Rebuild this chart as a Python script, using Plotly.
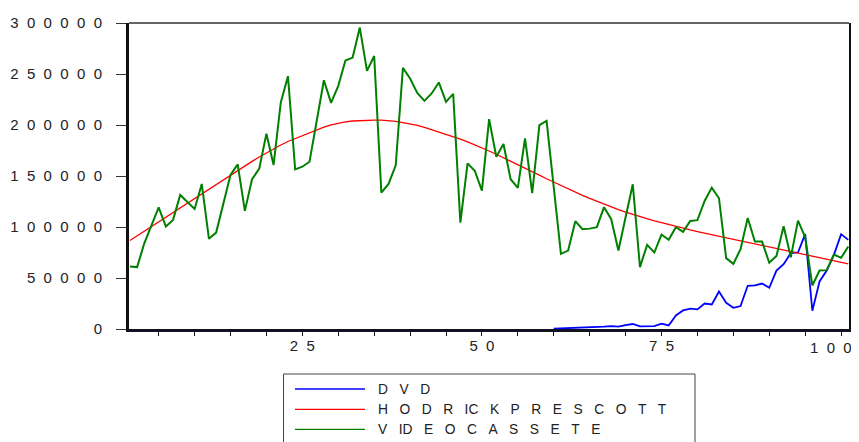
import plotly.graph_objects as go

periods = list(range(1, 102))

videocassete = [
    61200, 60700, 84000, 100800, 119200, 100400, 107000, 131400, 124900, 117700,
    142200, 88400, 94500, 123000, 151000, 161400, 115800, 146800, 157200, 191400,
    160800, 222100, 247900, 156500, 159100, 164000, 205000, 243900, 221700, 238400,
    263200, 266100, 295500, 253000, 267700, 133700, 142200, 160500, 256000, 245600,
    231500, 223700, 230900, 241700, 222700, 230500, 104300, 162400, 155200, 135600,
    205800, 168900, 181300, 146800, 138300, 186900, 133100, 199900, 204100, 137000,
    73700, 76900, 105700, 97800, 98400, 99800, 119400, 107600, 76900, 109600,
    141900, 60700, 82500, 75000, 92600, 87400, 99800, 95200, 106000, 106700,
    125500, 138600, 128200, 69500, 63900, 78300, 108900, 85700, 85700, 64900,
    71700, 100800, 70400, 106300, 90000, 42700, 57300, 57700, 73000, 69800,
    80800,
]

hodrick_prescott = [
    86700, 91300, 96000, 100600, 105300, 109900, 114500, 119100, 123700, 128200,
    132800, 137400, 141900, 146500, 151000, 155500, 159900, 164300, 168600, 172800,
    176700, 180400, 183800, 186700, 189200, 192500, 195400, 197900, 200100, 201800,
    203000, 203900, 204400, 204700, 204800, 204700, 204300, 203500, 202400, 201100,
    199600, 197600, 195400, 193200, 190900, 188600, 186100, 183400, 180600, 177600,
    174500, 171300, 168000, 164600, 161200, 157700, 154200, 150800, 147300, 143900,
    140600, 137300, 134100, 131000, 128000, 125100, 122300, 119600, 117100, 114700,
    112400, 110200, 108100, 106100, 104200, 102300, 100500, 98800, 97100, 95500,
    94000, 92500, 91000, 89500, 88000, 86500, 84900, 83400, 81800, 80200,
    78600, 77000, 75500, 73900, 72400, 70900, 69500, 68100, 66700, 65300,
    63900,
]

dvd_start = 60
dvd = [
    300, 500, 1000, 1600, 1600, 1300, 2000, 2300, 2900, 2300,
    3900, 4900, 2600, 2900, 2900, 5300, 3500, 13300, 18200, 19900,
    19200, 25000, 24100, 36800, 25700, 20800, 22500, 42400, 42700, 44600,
    40400, 57300, 63600, 74400, 75000, 93000, 17900, 46600, 57300, 72700,
    93000, 87400,
]
dvd_periods = list(range(dvd_start, dvd_start + len(dvd)))

y_tick_values = [0, 50000, 100000, 150000, 200000, 250000, 300000]
x_tick_values = [25, 50, 75, 100]
series_names = ["DVD", "HODRICKPRESCOTT", "VIDEOCASSETE"]
# legend labels as printed (letter-spaced; "IC" / "ID" are set tight)
legend_labels = ["D V D", "H O D R IC K P R E S C O T T", "V ID E O C A S S E T E"]
series_colors = ["#0000ff", "#ff0000", "#008000"]

NB = "\u00a0\u00a0"


def spaced(s):
    return NB.join(list(s))


FONT = "Liberation Sans, Arial, sans-serif"
TXT = "#222222"

# the page body has an 8px default margin; size the figure so the plot
# area lands where it is in the reference window
W, H = 851, 434
ML, MR, MT, MB = 121, 10, 15, 113

fig = go.Figure()
fig.add_trace(go.Scatter(x=dvd_periods, y=dvd, mode="lines", name=series_names[0],
                         line=dict(color=series_colors[0], width=1.8), showlegend=False))
fig.add_trace(go.Scatter(x=periods, y=hodrick_prescott, mode="lines", name=series_names[1],
                         line=dict(color=series_colors[1], width=1.3), showlegend=False))
fig.add_trace(go.Scatter(x=periods, y=videocassete, mode="lines", name=series_names[2],
                         line=dict(color=series_colors[2], width=2), showlegend=False))

fig.update_layout(
    width=W, height=H,
    margin=dict(l=ML, r=MR, t=MT, b=MB, autoexpand=False),
    paper_bgcolor="white", plot_bgcolor="white",
    font=dict(family=FONT, size=15, color=TXT),
    showlegend=False,
)

# last x label sits at the right window edge; it is placed as an annotation
x_tick_text = [spaced(str(v)) for v in x_tick_values]
last_label = x_tick_text[-1]
x_tick_text[-1] = ""

fig.update_xaxes(
    range=[0.87, 101.1], showgrid=False, zeroline=False, automargin=False,
    showline=True, linecolor="#111122", linewidth=2.5,
    tickmode="array", tickvals=x_tick_values, ticktext=x_tick_text,
    ticks="outside", ticklen=4, tickcolor="#111111", tickwidth=1,
    minor=dict(dtick=5, tick0=0, ticks="outside", ticklen=4, tickcolor="#111111", tickwidth=1),
    ticklabelstandoff=-3, ticklabeloverflow="allow",
    tickfont=dict(family=FONT, size=15, color=TXT),
)
fig.update_yaxes(
    range=[0, 300000], showgrid=False, zeroline=False, automargin=False,
    showline=True, linecolor="#111111", linewidth=3, mirror=True,
    tickmode="array", tickvals=y_tick_values,
    ticktext=[spaced(str(v)) for v in y_tick_values],
    ticks="outside", ticklen=10, tickcolor="#333333", tickwidth=1,
    ticklabelstandoff=11, ticklabeloverflow="allow",
    tickfont=dict(family=FONT, size=15, color=TXT),
)

# top frame line
fig.add_shape(type="line", xref="paper", yref="paper", x0=0, x1=1, y0=1, y1=1,
              line=dict(color="#333333", width=1.5))

# custom legend (positions given in window pixels)
PLOT_W = W - ML - MR
PLOT_H = H - MT - MB
OFF = 8


def py2paper(py):
    return ((H - MB + OFF) - py) / PLOT_H


def px2paper(px):
    return (px - (ML + OFF)) / PLOT_W


fig.add_annotation(xref="x", yref="paper", x=x_tick_values[-1], y=py2paper(347),
                   xshift=-10, text=last_label, showarrow=False,
                   xanchor="center", yanchor="middle",
                   font=dict(family=FONT, size=15, color=TXT))

fig.add_shape(type="rect", xref="paper", yref="paper",
              x0=px2paper(283.5), x1=px2paper(695), y0=py2paper(374), y1=py2paper(450),
              line=dict(color="#444444", width=1), fillcolor="white")
row_y = [389, 409.3, 429.3]
LG = "\u00a0\u00a0\u00a0"
for label, col, ry in zip(legend_labels, series_colors, row_y):
    fig.add_shape(type="line", xref="paper", yref="paper",
                  x0=px2paper(295), x1=px2paper(365), y0=py2paper(ry), y1=py2paper(ry),
                  line=dict(color=col, width=1.3))
    fig.add_annotation(xref="paper", yref="paper", x=px2paper(376), y=py2paper(ry),
                       text=label.replace(" ", LG), showarrow=False,
                       xanchor="left", yanchor="middle",
                       font=dict(family=FONT, size=13.8, color=TXT))

fig.write_html("out.html")
